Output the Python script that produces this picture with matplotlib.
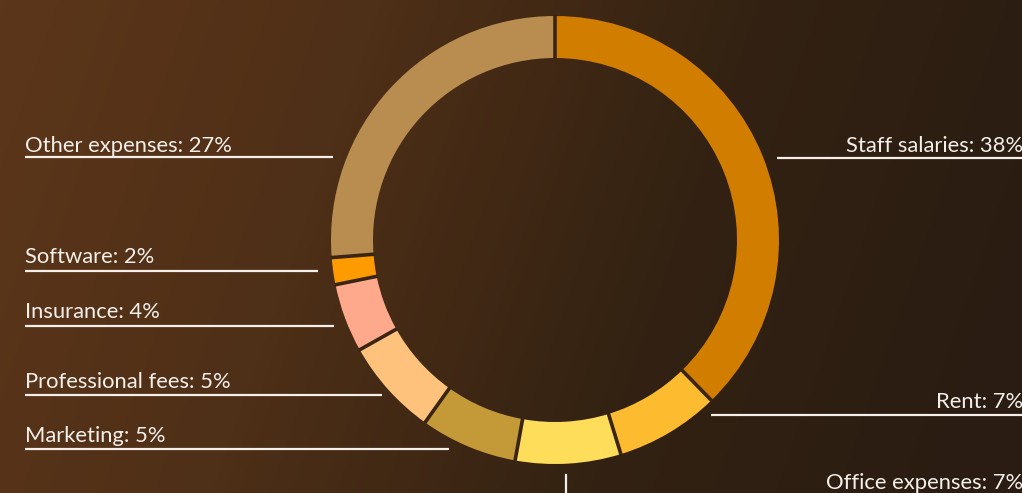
import numpy as np
import matplotlib.pyplot as plt
from matplotlib.colors import LinearSegmentedColormap

# expense shares (slice sizes read from the ring) and the label text shown
categories = ['Staff salaries', 'Rent', 'Office expenses', 'Marketing',
              'Professional fees', 'Insurance', 'Software', 'Other expenses']
shares = [37.7, 7.55, 7.6, 7.0, 7.0, 4.95, 1.95, 26.25]
label_pct = [38, 7, 7, 5, 5, 4, 2, 27]
colors = ['#D07D00', '#FDBB30', '#FEDD5A', '#C49A38',
          '#FEC27D', '#FFA98C', '#FD9B00', '#B98D50']

W, H = 1022, 493
fig = plt.figure(figsize=(W / 100, H / 100), dpi=100)
ax = fig.add_axes([0, 0, 1, 1])

# brown background, lighter at left, darker to the right
yy, xx = np.mgrid[0:H, 0:W]
t = np.clip(0.9 * xx / W + 0.15 * yy / H, 0, 1)
bg = LinearSegmentedColormap.from_list('bg', ['#5c361a', '#4e2f17', '#332212', '#2a1c12'])
ax.imshow(bg(t), extent=[0, W, 0, H], origin='upper', zorder=0, interpolation='bilinear')

cx, cy, r, ring = 555, H - 240, 224, 42
wedges, _ = ax.pie(shares, colors=colors, startangle=90, counterclock=False,
                   center=(cx, cy), radius=r,
                   wedgeprops=dict(width=ring, linewidth=0))
for w in wedges:
    w.set_zorder(2)

# dark gaps between slices
bounds = 90 - 3.6 * np.cumsum([0] + shares[:-1])
for a in np.radians(bounds):
    ax.plot([cx + (r - ring - 1) * np.cos(a), cx + (r + 1) * np.cos(a)],
            [cy + (r - ring - 1) * np.sin(a), cy + (r + 1) * np.sin(a)],
            color='#3a2414', lw=2.6, zorder=2.5, solid_capstyle='butt')

ax.set_xlim(0, W)
ax.set_ylim(0, H)
ax.set_aspect('equal')
ax.axis('off')

txt_col = '#f4efe9'
font = dict(family='Lato', fontsize=15.8, color=txt_col)

def label(i, x, y_base, ha, x0, x1, y_line):
    ax.text(x, H - y_base, f'{categories[i]}: {label_pct[i]}%', ha=ha, va='baseline',
            zorder=3, **font)
    ax.plot([x0, x1], [H - y_line, H - y_line], color=txt_col, lw=1.6, zorder=3,
            solid_capstyle='butt')

# left side
label(7, 25, 152, 'left', 25, 333, 157)
label(6, 25, 263, 'left', 25, 318, 270.5)
label(5, 25, 318, 'left', 25, 334, 325.5)
label(4, 25, 388, 'left', 25, 382, 395)
label(3, 25, 442, 'left', 25, 449, 449)
# right side
label(0, 1023, 152, 'right', 777, W, 157.5)
label(1, 1023, 408, 'right', 711, W, 415)
label(2, 1023, 489, 'right', 566, W, 498)
ax.plot([566, 566], [H - 475, H - 498], color=txt_col, lw=1.6, zorder=3)

fig.savefig('out.png', dpi=100)
